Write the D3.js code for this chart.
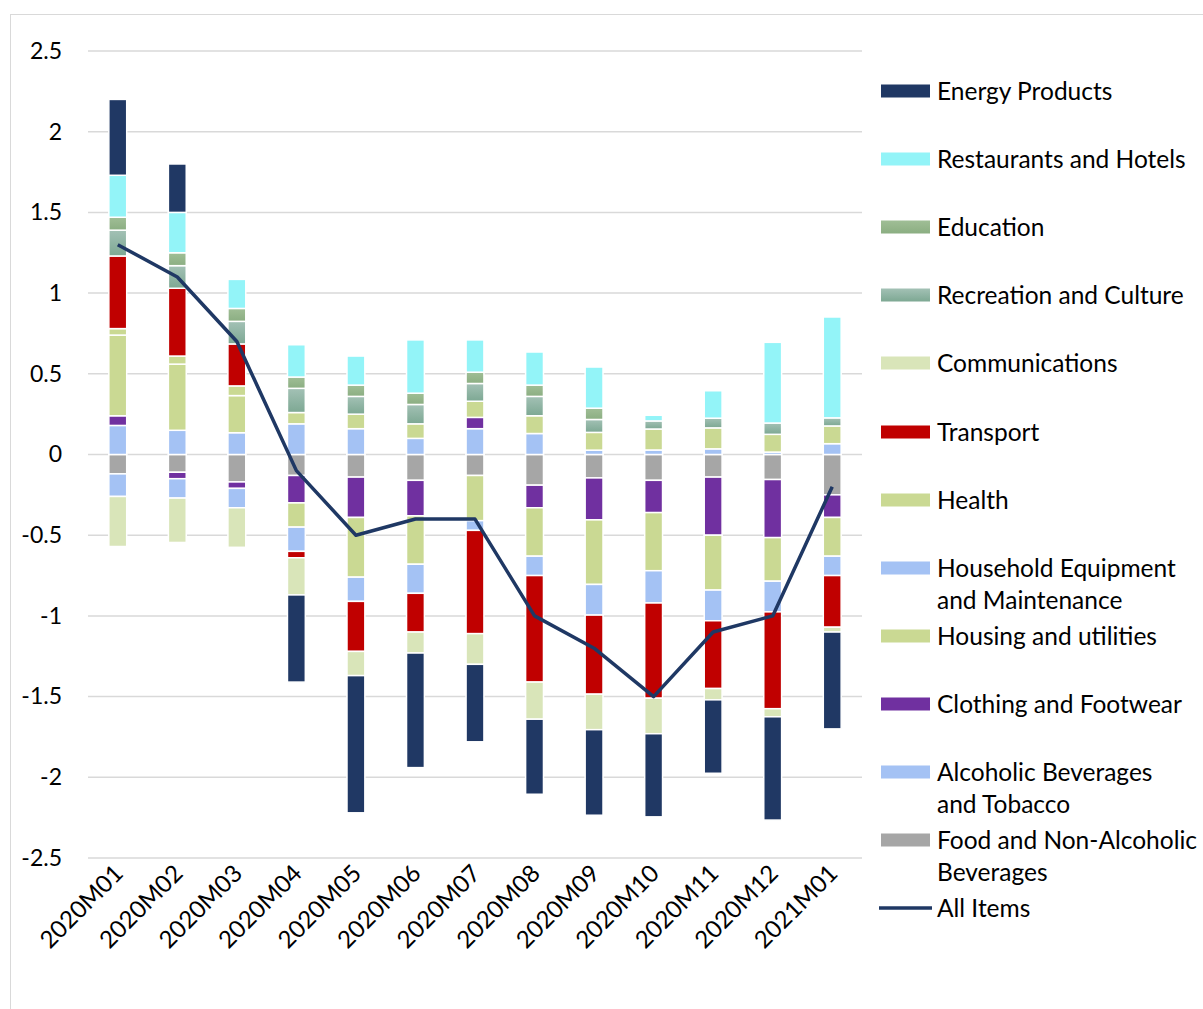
<!DOCTYPE html>
<html>
<head>
<meta charset="utf-8">
<script src="https://cdn.jsdelivr.net/npm/d3@7"></script>
<style>
  html, body { margin: 0; padding: 0; background: #fff; }
  svg { display: block; }
  text { font-family: "Lato", "Open Sans", sans-serif; fill: #000; }
</style>
</head>
<body>
<svg id="chart" width="1203" height="1009"></svg>
<script>
const months = ["2020M01","2020M02","2020M03","2020M04","2020M05","2020M06","2020M07","2020M08","2020M09","2020M10","2020M11","2020M12","2021M01"];

const food        = [-0.12, -0.11, -0.17, -0.13, -0.14, -0.16, -0.13, -0.19, -0.145, -0.16, -0.14, -0.155, -0.25];
const alcohol     = [0.18, 0.15, 0.135, 0.19, 0.16, 0.10, 0.16, 0.13, 0.027, 0.028, 0.035, 0.015, 0.067];
const clothing    = [0.06, -0.04, -0.04, -0.17, -0.25, -0.22, 0.07, -0.14, -0.26, -0.20, -0.36, -0.36, -0.14];
const housing     = [0.50, 0.41, 0.23, -0.15, -0.37, -0.30, -0.28, -0.30, -0.40, -0.36, -0.34, -0.27, -0.24];
const household   = [-0.14, -0.12, -0.12, -0.15, -0.15, -0.18, -0.06, -0.12, -0.19, -0.20, -0.19, -0.19, -0.12];
const health      = [0.04, 0.05, 0.06, 0.07, 0.09, 0.09, 0.10, 0.11, 0.11, 0.13, 0.13, 0.11, 0.11];
const transport   = [0.45, 0.42, 0.26, -0.04, -0.31, -0.24, -0.64, -0.66, -0.49, -0.59, -0.42, -0.60, -0.32];
const comms       = [-0.31, -0.275, -0.245, -0.23, -0.15, -0.13, -0.19, -0.23, -0.22, -0.22, -0.07, -0.05, -0.03];
const recreation  = [0.16, 0.14, 0.14, 0.15, 0.11, 0.12, 0.11, 0.12, 0.08, 0.05, 0.06, 0.07, 0.05];
const education   = [0.08, 0.08, 0.08, 0.07, 0.07, 0.07, 0.07, 0.07, 0.07, 0, 0, 0, 0];
const restaurants = [0.26, 0.25, 0.18, 0.20, 0.18, 0.33, 0.20, 0.205, 0.255, 0.035, 0.17, 0.50, 0.625];
const energy      = [0.47, 0.30, 0, -0.54, -0.85, -0.71, -0.48, -0.465, -0.53, -0.515, -0.455, -0.64, -0.60];
const allItems    = [1.3, 1.1, 0.7, -0.1, -0.5, -0.4, -0.4, -1.0, -1.2, -1.5, -1.1, -1.0, -0.2];

const yTicks = [2.5, 2, 1.5, 1, 0.5, 0, -0.5, -1, -1.5, -2, -2.5];

const seriesNames = ["Food and Non-Alcoholic Beverages","Alcoholic Beverages and Tobacco","Clothing and Footwear","Housing and utilities","Household Equipment and Maintenance","Health","Transport","Communications","Recreation and Culture","Education","Restaurants and Hotels","Energy Products"];
const seriesValues = [food, alcohol, clothing, housing, household, health, transport, comms, recreation, education, restaurants, energy];
const lineName = "All Items";

const colors = {
  "Food and Non-Alcoholic Beverages": "#A6A6A6",
  "Alcoholic Beverages and Tobacco": "#A4C2F4",
  "Clothing and Footwear": "#7030A0",
  "Housing and utilities": "#CAD993",
  "Household Equipment and Maintenance": "#A4C2F4",
  "Health": "#CAD993",
  "Transport": "#C00000",
  "Communications": "#D9E5B9",
  "Recreation and Culture": "url(#gradRec)",
  "Education": "url(#gradEdu)",
  "Restaurants and Hotels": "#93F4F8",
  "Energy Products": "#203864"
};
const lineColor = "#1F3864";

const svg = d3.select("#chart");
const defs = svg.append("defs");
function grad(id, top, bottom) {
  const g = defs.append("linearGradient").attr("id", id).attr("x1", 0).attr("y1", 0).attr("x2", 0).attr("y2", 1);
  g.append("stop").attr("offset", "0%").attr("stop-color", top);
  g.append("stop").attr("offset", "100%").attr("stop-color", bottom);
}
grad("gradRec", "#A3C1B5", "#7DA893");
grad("gradEdu", "#A0BE96", "#8BAE82");

// chart area border
svg.append("rect").attr("x", 10.5).attr("y", 14.5).attr("width", 1300).attr("height", 1100)
  .attr("fill", "none").attr("stroke", "#D9D9D9").attr("stroke-width", 1);

const plot = { left: 88, right: 862, top: 51, bottom: 858 };

const x = d3.scaleBand().domain(months).range([plot.left, plot.right]).paddingInner(0.7).paddingOuter(0.35);
const y = d3.scaleLinear().domain([-2.5, 2.5]).range([plot.bottom, plot.top]);

// gridlines
svg.append("g").selectAll("line").data(yTicks).join("line")
  .attr("x1", plot.left).attr("x2", plot.right)
  .attr("y1", d => y(d)).attr("y2", d => y(d))
  .attr("stroke", "#D9D9D9").attr("stroke-width", 1.5);

// y axis labels
const yAxis = d3.axisLeft(y).tickValues(yTicks).tickSize(0).tickPadding(0).tickFormat(d => String(d));
const yg = svg.append("g").attr("transform", `translate(62,0)`).call(yAxis);
yg.select(".domain").remove();
yg.selectAll("text").attr("font-size", 23).attr("font-family", "Lato, 'Open Sans', sans-serif").attr("fill", "#000");

// data table for stack
const table = months.map((m, i) => {
  const row = { month: m };
  seriesNames.forEach((s, k) => row[s] = seriesValues[k][i]);
  return row;
});
const stack = d3.stack().keys(seriesNames).order(d3.stackOrderNone).offset(d3.stackOffsetDiverging);
const stacked = stack(table);

const barsG = svg.append("g");
stacked.forEach(layer => {
  barsG.append("g").attr("fill", colors[layer.key])
    .selectAll("rect").data(layer.filter(d => Math.abs(d[1] - d[0]) > 1e-9)).join("rect")
    .attr("x", d => x(d.data.month))
    .attr("width", x.bandwidth())
    .attr("y", d => y(Math.max(d[0], d[1])))
    .attr("height", d => Math.abs(y(d[0]) - y(d[1])))
    .attr("stroke", "#fff").attr("stroke-width", 1.5);
});

// line
const line = d3.line().x((d, i) => x(months[i]) + x.bandwidth() / 2).y(d => y(d));
svg.append("path").datum(allItems).attr("d", line)
  .attr("fill", "none").attr("stroke", lineColor).attr("stroke-width", 3.5).attr("stroke-linejoin", "round");

// x axis labels
const xAxis = d3.axisBottom(x).tickSize(0).tickPadding(0);
const xg = svg.append("g").attr("transform", `translate(0,${plot.bottom + 10})`).call(xAxis);
xg.select(".domain").remove();
xg.selectAll("text")
  .attr("font-size", 24).attr("font-family", "Lato, 'Open Sans', sans-serif").attr("fill", "#000")
  .attr("text-anchor", "end").attr("dy", "0.35em")
  .attr("transform", "translate(1,1) rotate(-45)");

// legend
const legendItems = [
  { name: "Energy Products", lines: ["Energy Products"], y: 91 },
  { name: "Restaurants and Hotels", lines: ["Restaurants and Hotels"], y: 159 },
  { name: "Education", lines: ["Education"], y: 227 },
  { name: "Recreation and Culture", lines: ["Recreation and Culture"], y: 295 },
  { name: "Communications", lines: ["Communications"], y: 363 },
  { name: "Transport", lines: ["Transport"], y: 432 },
  { name: "Health", lines: ["Health"], y: 500 },
  { name: "Household Equipment and Maintenance", lines: ["Household Equipment", "and Maintenance"], y: 568 },
  { name: "Housing and utilities", lines: ["Housing and utilities"], y: 636 },
  { name: "Clothing and Footwear", lines: ["Clothing and Footwear"], y: 704 },
  { name: "Alcoholic Beverages and Tobacco", lines: ["Alcoholic Beverages", "and Tobacco"], y: 772 },
  { name: "Food and Non-Alcoholic Beverages", lines: ["Food and Non-Alcoholic", "Beverages"], y: 840 },
  { name: lineName, lines: [lineName], y: 908, isLine: true }
];
const lg = svg.append("g");
legendItems.forEach(it => {
  if (it.isLine) {
    lg.append("line").attr("x1", 879).attr("x2", 932).attr("y1", it.y).attr("y2", it.y)
      .attr("stroke", lineColor).attr("stroke-width", 3.5);
  } else {
    lg.append("rect").attr("x", 881).attr("y", it.y - 6.5).attr("width", 49).attr("height", 13)
      .attr("fill", colors[it.name]);
  }
  it.lines.forEach((t, j) => {
    lg.append("text").attr("x", 937).attr("y", it.y + j * 32).attr("dy", "0.35em")
      .attr("font-size", 24.5).text(t);
  });
});
</script>
</body>
</html>
